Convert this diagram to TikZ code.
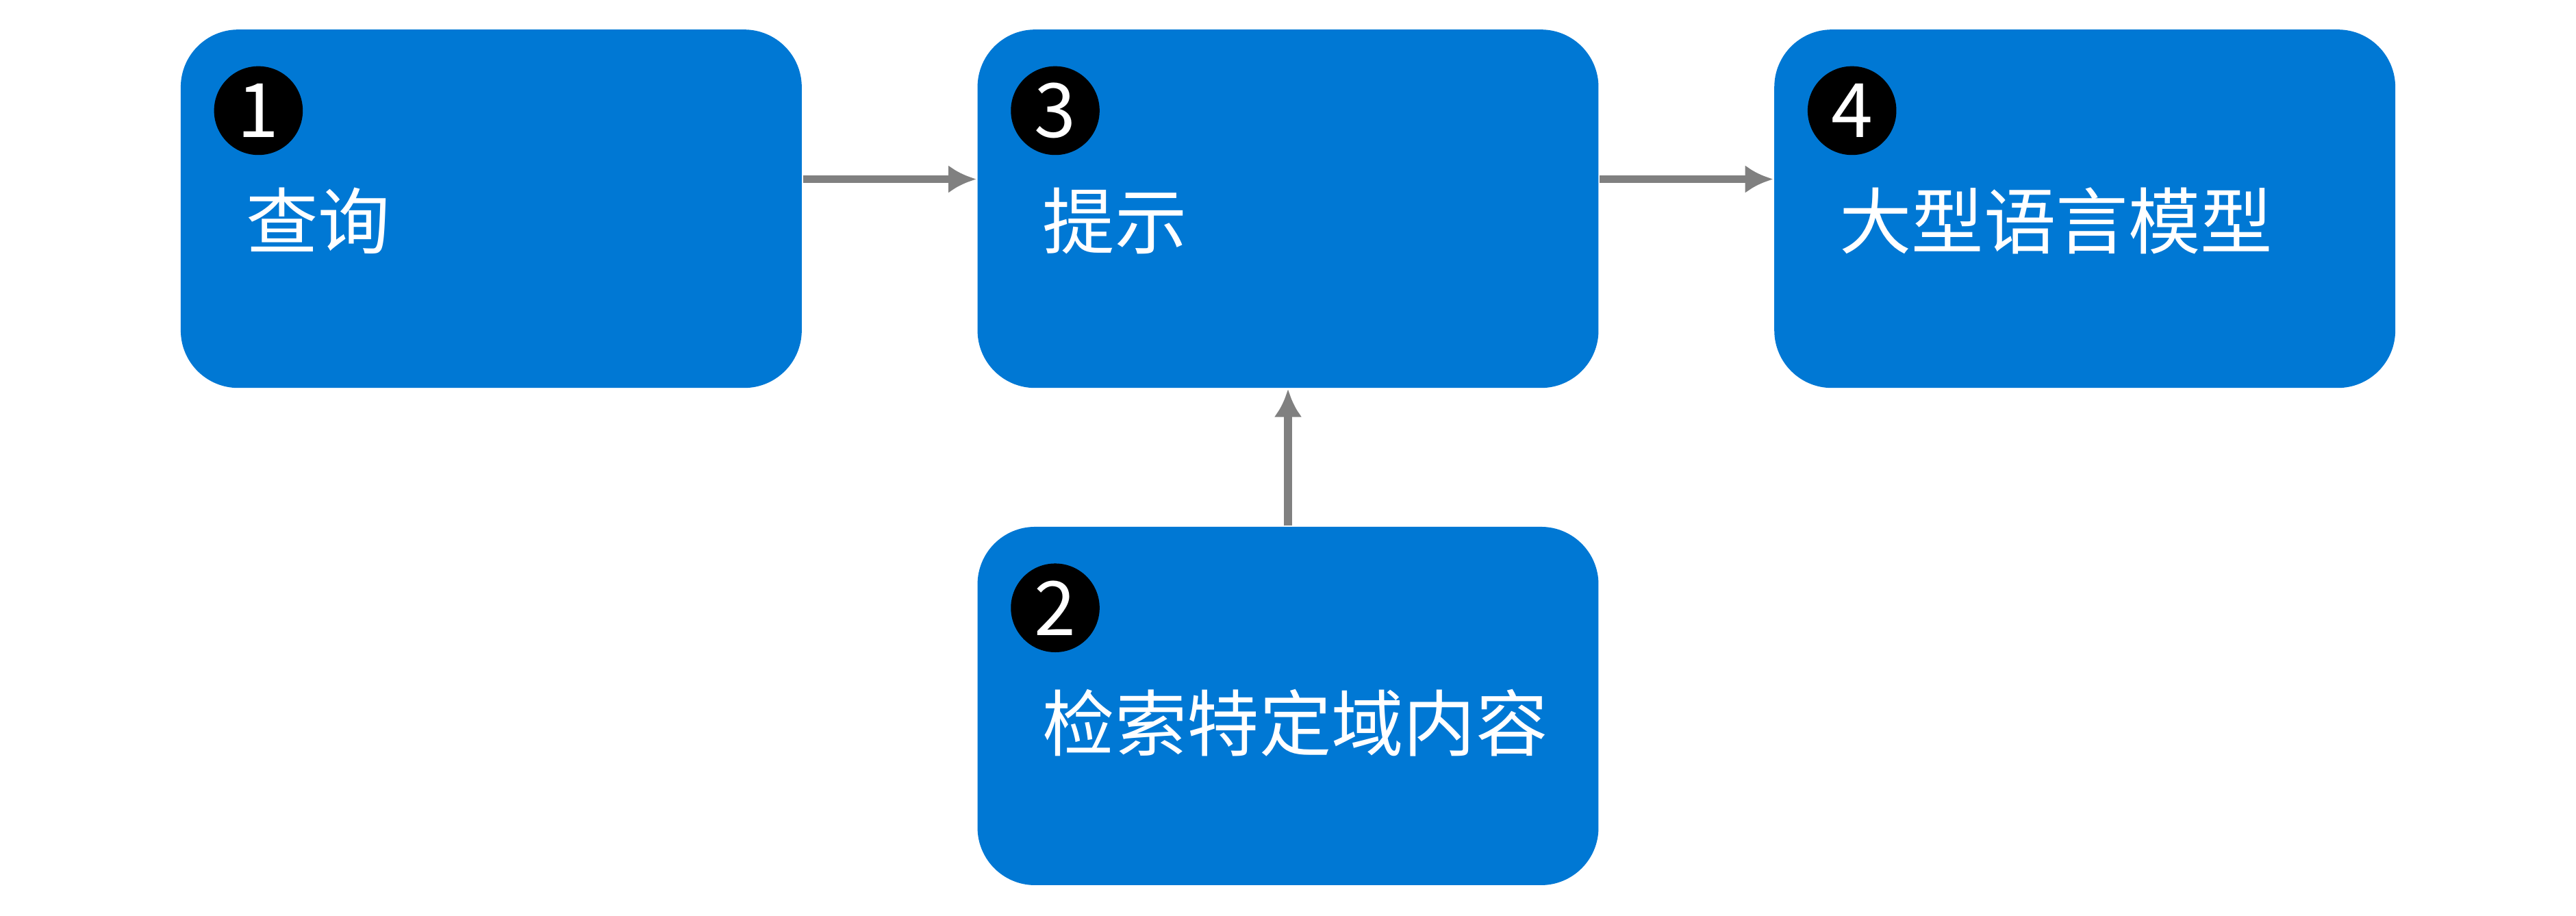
\documentclass[tikz,border=0pt]{standalone}
\usepackage{fontspec}
\setmainfont{Noto Sans CJK SC}
\usetikzlibrary{positioning,arrows.meta}
\definecolor{boxblue}{HTML}{0078D4}
\definecolor{arrowgray}{HTML}{808080}
\begin{document}
\begin{tikzpicture}[
    stepbox/.style={rectangle, rounded corners=0.35cm, fill=boxblue, minimum width=3.78cm, minimum height=2.18cm, inner sep=0pt},
    badge/.style={circle, fill=black, inner sep=0pt, minimum size=0.54cm, text=white, font=\fontsize{13pt}{13pt}\selectfont},
    lbl/.style={anchor=west, text=white, font=\fontsize{12.5pt}{14pt}\selectfont},
    link/.style={draw=arrowgray, line width=1.4pt, -{Latex[length=0.17cm,width=0.17cm]}}
  ]
  \useasboundingbox (0,0) rectangle (15.68,5.57);

  % Boxes
  \node[stepbox] (query) at (2.99,4.30) {};
  \node[stepbox] (prompt) at (7.84,4.30) {};
  \node[stepbox] (model) at (12.69,4.30) {};
  \node[stepbox] (retrieve) at (7.84,1.275) {};

  % Badges and labels
  \node[badge] at ([xshift=0.48cm,yshift=-0.50cm]query.north west) {1};
  \node[lbl] at ([xshift=0.28cm,yshift=-1.17cm]query.north west) {查询};
  \node[badge] at ([xshift=0.48cm,yshift=-0.50cm]retrieve.north west) {2};
  \node[lbl] at ([xshift=0.28cm,yshift=-1.20cm]retrieve.north west) {检索特定域内容};
  \node[badge] at ([xshift=0.48cm,yshift=-0.50cm]prompt.north west) {3};
  \node[lbl] at ([xshift=0.28cm,yshift=-1.17cm]prompt.north west) {提示};
  \node[badge] at ([xshift=0.48cm,yshift=-0.50cm]model.north west) {4};
  \node[lbl] at ([xshift=0.28cm,yshift=-1.17cm]model.north west) {大型语言模型};

  % Connectors
  \draw[link] (query.east |- 0,4.48) -- (prompt.west |- 0,4.48);
  \draw[link] (prompt.east |- 0,4.48) -- (model.west |- 0,4.48);
  \draw[link] (retrieve.north) -- (prompt.south);
\end{tikzpicture}
\end{document}
